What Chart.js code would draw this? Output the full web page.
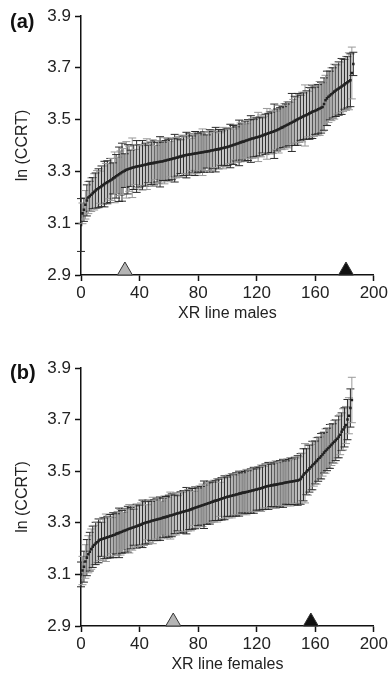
<!DOCTYPE html>
<html>
<head>
<meta charset="utf-8">
<script src="https://cdn.jsdelivr.net/npm/chart.js@4.4.1/dist/chart.umd.min.js"></script>
<style>
  html, body { margin: 0; padding: 0; background: #fff; }
  .panel { position: absolute; left: 0; width: 390px; height: 337px; }
  #panelA { top: 0; }
  #panelB { top: 337px; }
</style>
</head>
<body>
<div class="panel" id="panelA"><canvas id="chartA"></canvas></div>
<div class="panel" id="panelB"><canvas id="chartB"></canvas></div>
<script>
// ---- data ----
const yTicks = [2.9, 3.1, 3.3, 3.5, 3.7, 3.9];
const xTicks = [0, 40, 80, 120, 160, 200];

// (a) males: sorted line means and error half-widths
const malesMean = [
  3.093, 3.138, 3.152, 3.171, 3.188, 3.199, 3.204, 3.210, 3.216, 3.221,
  3.226, 3.231, 3.235, 3.239, 3.243, 3.247, 3.251, 3.255, 3.258, 3.262,
  3.265, 3.269, 3.273, 3.277, 3.281, 3.285, 3.289, 3.293, 3.297, 3.300,
  3.303, 3.306, 3.308, 3.310, 3.312, 3.314, 3.316, 3.317, 3.319, 3.320,
  3.321, 3.322, 3.324, 3.325, 3.326, 3.328, 3.329, 3.330, 3.331, 3.332,
  3.333, 3.334, 3.335, 3.336, 3.337, 3.338, 3.339, 3.341, 3.342, 3.344,
  3.345, 3.347, 3.348, 3.350, 3.351, 3.353, 3.354, 3.356, 3.357, 3.359,
  3.360, 3.362, 3.363, 3.364, 3.365, 3.366, 3.367, 3.368, 3.369, 3.370,
  3.371, 3.372, 3.373, 3.374, 3.375, 3.376, 3.377, 3.378, 3.379, 3.381,
  3.382, 3.383, 3.384, 3.385, 3.386, 3.387, 3.389, 3.390, 3.391, 3.393,
  3.394, 3.396, 3.398, 3.400, 3.402, 3.404, 3.406, 3.408, 3.410, 3.412,
  3.414, 3.415, 3.417, 3.419, 3.421, 3.423, 3.425, 3.427, 3.428, 3.430,
  3.432, 3.433, 3.435, 3.437, 3.439, 3.441, 3.443, 3.445, 3.447, 3.449,
  3.451, 3.453, 3.455, 3.458, 3.460, 3.463, 3.466, 3.469, 3.471, 3.474,
  3.477, 3.480, 3.483, 3.486, 3.489, 3.492, 3.495, 3.498, 3.501, 3.504,
  3.507, 3.510, 3.513, 3.516, 3.518, 3.521, 3.524, 3.527, 3.530, 3.532,
  3.534, 3.537, 3.540, 3.543, 3.546, 3.549, 3.560, 3.575, 3.582, 3.588,
  3.593, 3.598, 3.603, 3.608, 3.612, 3.616, 3.620, 3.624, 3.628, 3.632,
  3.636, 3.640, 3.644, 3.648, 3.652, 3.680, 3.715
];
const malesErr = [
  0.102, 0.040, 0.045, 0.055, 0.060, 0.062, 0.058, 0.065, 0.060, 0.070,
  0.068, 0.072, 0.075, 0.062, 0.078, 0.074, 0.088, 0.076, 0.083, 0.068,
  0.085, 0.081, 0.060, 0.098, 0.084, 0.070, 0.105, 0.086, 0.112, 0.088,
  0.065, 0.109, 0.095, 0.087, 0.070, 0.115, 0.086, 0.068, 0.100, 0.084,
  0.081, 0.077, 0.095, 0.079, 0.083, 0.098, 0.072, 0.075, 0.082, 0.090,
  0.085, 0.066, 0.076, 0.083, 0.097, 0.079, 0.074, 0.089, 0.077, 0.084,
  0.079, 0.068, 0.080, 0.076, 0.092, 0.078, 0.072, 0.079, 0.065, 0.081,
  0.076, 0.071, 0.088, 0.074, 0.080, 0.062, 0.070, 0.077, 0.085, 0.079,
  0.074, 0.069, 0.076, 0.090, 0.078, 0.073, 0.064, 0.075, 0.082, 0.077,
  0.072, 0.068, 0.086, 0.070, 0.076, 0.062, 0.067, 0.080, 0.070, 0.076,
  0.071, 0.067, 0.084, 0.069, 0.075, 0.060, 0.066, 0.073, 0.088, 0.075,
  0.070, 0.072, 0.077, 0.065, 0.079, 0.074, 0.090, 0.076, 0.072, 0.078,
  0.074, 0.095, 0.075, 0.081, 0.068, 0.072, 0.078, 0.098, 0.077, 0.082,
  0.078, 0.084, 0.105, 0.075, 0.081, 0.092, 0.080, 0.085, 0.079, 0.088,
  0.083, 0.089, 0.084, 0.080, 0.112, 0.086, 0.095, 0.088, 0.100, 0.092,
  0.087, 0.096, 0.090, 0.118, 0.093, 0.088, 0.100, 0.094, 0.103, 0.097,
  0.091, 0.099, 0.095, 0.104, 0.098, 0.093, 0.101, 0.096, 0.105, 0.099,
  0.094, 0.102, 0.097, 0.106, 0.100, 0.095, 0.103, 0.098, 0.108, 0.101,
  0.096, 0.104, 0.099, 0.110, 0.102, 0.100, 0.045
];
const malesMarkers = [30, 181];

// (b) females
const femalesMean = [
  3.100, 3.115, 3.130, 3.150, 3.165, 3.178, 3.188, 3.198, 3.207, 3.214,
  3.220, 3.225, 3.230, 3.234, 3.236, 3.238, 3.240, 3.242, 3.244, 3.246,
  3.248, 3.250, 3.252, 3.254, 3.257, 3.259, 3.261, 3.263, 3.265, 3.268,
  3.270, 3.272, 3.275, 3.277, 3.279, 3.281, 3.283, 3.285, 3.287, 3.289,
  3.291, 3.293, 3.296, 3.298, 3.300, 3.302, 3.303, 3.305, 3.307, 3.309,
  3.310, 3.312, 3.313, 3.315, 3.316, 3.318, 3.320, 3.321, 3.323, 3.324,
  3.326, 3.328, 3.329, 3.331, 3.333, 3.335, 3.337, 3.338, 3.340, 3.342,
  3.343, 3.345, 3.347, 3.348, 3.350, 3.352, 3.354, 3.356, 3.358, 3.360,
  3.362, 3.364, 3.366, 3.368, 3.370, 3.372, 3.374, 3.376, 3.378, 3.380,
  3.382, 3.384, 3.386, 3.387, 3.389, 3.391, 3.393, 3.395, 3.397, 3.399,
  3.401, 3.402, 3.404, 3.405, 3.407, 3.408, 3.410, 3.411, 3.413, 3.414,
  3.416, 3.417, 3.418, 3.419, 3.420, 3.422, 3.423, 3.425, 3.426, 3.428,
  3.429, 3.431, 3.432, 3.434, 3.436, 3.438, 3.440, 3.442, 3.443, 3.444,
  3.445, 3.446, 3.447, 3.448, 3.449, 3.450, 3.451, 3.452, 3.453, 3.455,
  3.456, 3.457, 3.458, 3.459, 3.460, 3.461, 3.462, 3.463, 3.464, 3.466,
  3.470, 3.478, 3.486, 3.492, 3.498, 3.504, 3.510, 3.516, 3.522, 3.528,
  3.534, 3.540, 3.546, 3.552, 3.558, 3.565, 3.572, 3.578, 3.584, 3.590,
  3.596, 3.602, 3.608, 3.614, 3.620, 3.626, 3.633, 3.641, 3.653, 3.662,
  3.670, 3.679, 3.700, 3.715, 3.745, 3.776
];
const femalesErr = [
  0.048, 0.055, 0.060, 0.065, 0.070, 0.072, 0.075, 0.078, 0.080, 0.076,
  0.082, 0.078, 0.085, 0.080, 0.066, 0.083, 0.079, 0.092, 0.081, 0.077,
  0.084, 0.070, 0.087, 0.082, 0.078, 0.085, 0.096, 0.088, 0.083, 0.072,
  0.086, 0.082, 0.089, 0.094, 0.080, 0.087, 0.070, 0.078, 0.085, 0.081,
  0.077, 0.084, 0.092, 0.086, 0.082, 0.068, 0.085, 0.081, 0.076, 0.090,
  0.079, 0.075, 0.082, 0.078, 0.084, 0.066, 0.076, 0.083, 0.079, 0.074,
  0.081, 0.091, 0.083, 0.079, 0.075, 0.082, 0.068, 0.074, 0.080, 0.076,
  0.082, 0.078, 0.090, 0.080, 0.076, 0.083, 0.079, 0.066, 0.081, 0.077,
  0.073, 0.079, 0.075, 0.082, 0.092, 0.074, 0.080, 0.076, 0.083, 0.079,
  0.075, 0.081, 0.077, 0.084, 0.080, 0.066, 0.082, 0.078, 0.085, 0.080,
  0.076, 0.083, 0.079, 0.086, 0.081, 0.077, 0.084, 0.080, 0.087, 0.082,
  0.078, 0.085, 0.081, 0.088, 0.083, 0.079, 0.086, 0.082, 0.089, 0.084,
  0.080, 0.087, 0.083, 0.090, 0.085, 0.081, 0.088, 0.084, 0.091, 0.086,
  0.082, 0.089, 0.085, 0.092, 0.087, 0.083, 0.090, 0.086, 0.093, 0.088,
  0.084, 0.091, 0.087, 0.094, 0.089, 0.085, 0.092, 0.088, 0.096, 0.090,
  0.098, 0.092, 0.101, 0.115, 0.089, 0.097, 0.091, 0.088, 0.094, 0.086,
  0.083, 0.090, 0.085, 0.081, 0.088, 0.084, 0.079, 0.086, 0.082, 0.078,
  0.085, 0.080, 0.076, 0.083, 0.079, 0.074, 0.081, 0.077, 0.073, 0.080,
  0.076, 0.072, 0.078, 0.070, 0.074, 0.088
];
const femalesMarkers = [63, 157];

const markerFills = ['#b4b4b4', '#111111'];
const FONT = "'Liberation Sans', Arial, Helvetica, sans-serif";

// error bars drawn under the points
const errorBarPlugin = {
  id: 'errorBars',
  beforeDatasetsDraw(chart, args, opts) {
    const ctx = chart.ctx;
    const yScale = chart.scales.y;
    const meta = chart.getDatasetMeta(0);
    const ds = chart.data.datasets[0].data;
    ctx.save();
    ctx.lineWidth = 1;
    meta.data.forEach((pt, i) => {
      const e = opts.errors[i];
      const top = yScale.getPixelForValue(ds[i].y + e);
      const bot = yScale.getPixelForValue(ds[i].y - e);
      ctx.strokeStyle = i % 2 === 0 ? '#2a2a2a' : '#999';
      ctx.beginPath();
      ctx.moveTo(pt.x, top);
      ctx.lineTo(pt.x, bot);
      ctx.moveTo(pt.x - 4, top);
      ctx.lineTo(pt.x + 4, top);
      ctx.moveTo(pt.x - 4, bot);
      ctx.lineTo(pt.x + 4, bot);
      ctx.stroke();
    });
    ctx.restore();
  }
};

// triangles on the x axis + panel letter
const decorPlugin = {
  id: 'decor',
  afterDraw(chart, args, opts) {
    const ctx = chart.ctx;
    const xScale = chart.scales.x;
    const base = chart.chartArea.bottom;
    ctx.save();
    opts.markers.forEach((m, k) => {
      const x = xScale.getPixelForValue(m);
      ctx.beginPath();
      ctx.moveTo(x - 7.5, base);
      ctx.lineTo(x + 7.5, base);
      ctx.lineTo(x, base - 13);
      ctx.closePath();
      ctx.fillStyle = markerFills[k];
      ctx.fill();
      ctx.strokeStyle = '#333';
      ctx.lineWidth = 1;
      ctx.stroke();
    });
    ctx.fillStyle = '#111';
    ctx.font = 'bold 20px ' + FONT;
    ctx.textBaseline = 'alphabetic';
    ctx.textAlign = 'left';
    ctx.fillText(opts.letter, 10, opts.letterY);
    ctx.restore();
  }
};

function makeChart(id, means, errs, markers, xTitle, letter, letterY, padTop, xHeight, titlePad) {
  const points = means.map((v, i) => ({ x: i, y: v }));
  return new Chart(document.getElementById(id), {
    type: 'scatter',
    data: {
      datasets: [{
        data: points,
        pointStyle: 'rect',
        pointRadius: 1.8,
        pointBackgroundColor: '#222',
        pointBorderWidth: 0,
        showLine: false
      }]
    },
    options: {
      responsive: true,
      maintainAspectRatio: false,
      animation: false,
      events: [],
      layout: { padding: { top: padTop, right: 15, bottom: 0, left: 0 } },
      plugins: {
        legend: { display: false },
        tooltip: { enabled: false },
        errorBars: { errors: errs },
        decor: { markers: markers, letter: letter, letterY: letterY }
      },
      scales: {
        x: {
          type: 'linear',
          min: 0, max: 200,
          afterBuildTicks: s => { s.ticks = xTicks.map(v => ({ value: v })); },
          afterFit: s => { s.height = xHeight; },
          border: { color: '#111', width: 1.5 },
          grid: { drawOnChartArea: false, tickLength: 6, tickColor: '#111', tickWidth: 1.5 },
          ticks: { color: '#222', padding: 2, font: { family: FONT, size: 17 } },
          title: { display: true, text: xTitle, color: '#222', padding: { top: 0, bottom: titlePad },
                   font: { family: FONT, size: 16 } }
        },
        y: {
          min: 2.9, max: 3.9,
          afterBuildTicks: s => { s.ticks = yTicks.map(v => ({ value: v })); },
          afterFit: s => { s.width = 81; },
          border: { color: '#111', width: 1.5 },
          grid: { drawOnChartArea: false, tickLength: 6, tickColor: '#111', tickWidth: 1.5 },
          ticks: { color: '#222', padding: 4, font: { family: FONT, size: 17 },
                   callback: v => v.toFixed(1) },
          title: { display: true, text: 'ln (CCRT)', color: '#222', padding: { top: 13, bottom: 0 },
                   font: { family: FONT, size: 16 } }
        }
      }
    },
    plugins: [errorBarPlugin, decorPlugin]
  });
}

makeChart('chartA', malesMean, malesErr, malesMarkers, 'XR line males', '(a)', 28, 16, 62, 14);
makeChart('chartB', femalesMean, femalesErr, femalesMarkers, 'XR line females', '(b)', 42, 31, 48, 0);
</script>
</body>
</html>
